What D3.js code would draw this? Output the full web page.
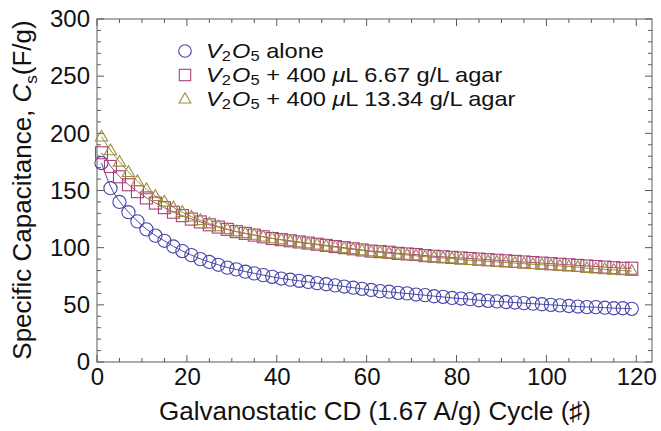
<!DOCTYPE html>
<html>
<head>
<meta charset="utf-8">
<script src="https://cdn.jsdelivr.net/npm/d3@7"></script>
<style>
  html, body { margin: 0; padding: 0; background: #fff; }
  svg { display: block; font-family: "Liberation Sans", Arial, Helvetica, sans-serif; }
</style>
</head>
<body>
<svg id="chart" width="661" height="431"></svg>
<script>
// Cycle numbers (every other cycle is plotted)
const cycles = d3.range(1, 120, 2);

// Specific capacitance (F/g) per plotted cycle
const aloneVals = [
  174, 152, 140, 131, 123, 116, 110.5, 106, 101, 97,
  93.5, 90, 87.5, 85, 82.5, 81, 79, 77.5, 76, 74.5,
  73, 72, 71, 70, 69, 68, 67, 66, 65, 64,
  63, 62, 61.5, 60.5, 60, 59, 58.5, 57.5, 57, 56,
  55.5, 55, 54, 53.5, 53, 52.5, 52, 51.5, 51, 50.5,
  50, 49.5, 49, 48.5, 48, 48, 47.5, 47, 47, 46.5
];
const agar667Vals = [
  183, 171, 162, 155, 149, 143.5, 139, 135, 131, 128,
  125, 122.5, 120, 118, 116, 114, 112.5, 111, 109.5, 108,
  107, 106, 105, 104, 103, 102, 101, 100, 99, 98,
  97, 96.5, 96, 95, 94.5, 94, 93, 92.5, 92, 91.5,
  91, 90.5, 90, 89.5, 89, 88.5, 88, 87.5, 87, 86.5,
  86, 85.5, 85, 84.5, 84, 83.5, 83, 82.5, 82, 82
];
const agar1334Vals = [
  197, 185, 175, 166, 158, 151, 145, 140, 135, 131,
  127, 124, 121, 118.5, 116, 114, 112.5, 111, 109.5, 108,
  107, 105.5, 104.5, 103.5, 102.5, 101.5, 100.5, 99.5, 98.5, 97.5,
  96.5, 96, 95, 94.5, 93.5, 93, 92, 91.5, 91, 90.5,
  89.5, 89, 88.5, 88, 87.5, 87, 86.5, 86, 85.5, 85,
  84.5, 84, 83.5, 83, 82, 81.5, 81, 80.5, 80, 79.5
];

const xTicks = [0, 20, 40, 60, 80, 100, 120];
const yTicks = [0, 50, 100, 150, 200, 250, 300];

const seriesNames = ["alone", "+ 400 μL 6.67 g/L agar", "+ 400 μL 13.34 g/L agar"];
const seriesColors = ["#4646aa", "#a8407c", "#9c8e3a"];
const seriesShapes = ["circle", "square", "triangle"];

const series = [aloneVals, agar667Vals, agar1334Vals].map((vals, i) => ({
  name: seriesNames[i],
  color: seriesColors[i],
  shape: seriesShapes[i],
  points: cycles.map((c, j) => ({ x: c, y: vals[j] }))
}));

const svg = d3.select("#chart");
const pLeft = 97, pRight = 652, pTop = 19, pBottom = 362;

const x = d3.scaleLinear().domain([0, 123.5]).range([pLeft, pRight]);
const y = d3.scaleLinear().domain([0, 300]).range([pBottom, pTop]);

const frameColor = "#5a5a5a";
const fontFam = "'Liberation Sans', Arial, sans-serif";

// Frame
svg.append("rect")
  .attr("x", pLeft).attr("y", pTop)
  .attr("width", pRight - pLeft).attr("height", pBottom - pTop)
  .attr("fill", "none").attr("stroke", frameColor).attr("stroke-width", 1);

// Inward ticks on all four sides
const xMinor = d3.range(0, 124, 5).filter(v => v % 20 !== 0);
const yMinor = d3.range(0, 301, 10).filter(v => v % 50 !== 0);
const tickG = svg.append("g").attr("stroke", frameColor).attr("stroke-width", 1);
function xTick(v, len) {
  tickG.append("line").attr("x1", x(v)).attr("x2", x(v)).attr("y1", pBottom).attr("y2", pBottom - len);
  tickG.append("line").attr("x1", x(v)).attr("x2", x(v)).attr("y1", pTop).attr("y2", pTop + len);
}
function yTick(v, len) {
  tickG.append("line").attr("y1", y(v)).attr("y2", y(v)).attr("x1", pLeft).attr("x2", pLeft + len);
  tickG.append("line").attr("y1", y(v)).attr("y2", y(v)).attr("x1", pRight).attr("x2", pRight - len);
}
xTicks.forEach(v => xTick(v, 7));
xMinor.forEach(v => xTick(v, 4));
yTicks.forEach(v => yTick(v, 7));
yMinor.forEach(v => yTick(v, 4));

// Tick labels via d3 axes (tick lines hidden; frame ticks drawn above)
const xAxis = svg.append("g")
  .attr("transform", `translate(0,${pBottom})`)
  .call(d3.axisBottom(x).tickValues(xTicks).tickSize(0).tickPadding(6));
xAxis.select(".domain").remove();
xAxis.selectAll("text")
  .attr("font-size", 24).attr("fill", "#111").attr("font-family", fontFam);

const yAxis = svg.append("g")
  .attr("transform", `translate(${pLeft},0)`)
  .call(d3.axisLeft(y).tickValues(yTicks).tickSize(0).tickPadding(7));
yAxis.select(".domain").remove();
yAxis.selectAll("text")
  .attr("font-size", 24).attr("fill", "#111").attr("font-family", fontFam);

// Axis titles
svg.append("text")
  .attr("x", 375).attr("y", 420)
  .attr("text-anchor", "middle").attr("font-size", 26).attr("fill", "#111")
  .text("Galvanostatic CD (1.67 A/g) Cycle (\u266F)");

const yTitle = svg.append("text")
  .attr("transform", "translate(31,190) rotate(-90)")
  .attr("text-anchor", "middle").attr("font-size", 26).attr("fill", "#111");
yTitle.append("tspan").text("Specific Capacitance, ");
yTitle.append("tspan").attr("font-style", "italic").text("C");
yTitle.append("tspan").attr("font-size", 17).attr("dy", 6).text("s");
yTitle.append("tspan").attr("dy", -6).text("(F/g)");

// Marker drawing
function drawMarker(g, shape, cx, cy, color, size) {
  const s = size || 1;
  if (shape === "circle") {
    g.append("circle").attr("cx", cx).attr("cy", cy).attr("r", 6.6 * s)
      .attr("fill", "none").attr("stroke", color).attr("stroke-width", 1.1);
  } else if (shape === "square") {
    const h = 6 * s;
    g.append("rect").attr("x", cx - h).attr("y", cy - h).attr("width", 2 * h).attr("height", 2 * h)
      .attr("fill", "none").attr("stroke", color).attr("stroke-width", 1.1);
  } else {
    const h = 6.5 * s;
    g.append("path")
      .attr("d", `M${cx},${cy - h} L${cx + h * 0.95},${cy + h * 0.65} L${cx - h * 0.95},${cy + h * 0.65} Z`)
      .attr("fill", "none").attr("stroke", color).attr("stroke-width", 1.1);
  }
}

const line = d3.line().x(d => x(d.x)).y(d => y(d.y)).curve(d3.curveBasis);

const plot = svg.append("g");
series.forEach(s => {
  plot.append("path")
    .datum(s.points)
    .attr("d", line)
    .attr("fill", "none").attr("stroke", s.color).attr("stroke-width", 1);
});
series.forEach(s => {
  const g = plot.append("g");
  s.points.forEach(p => drawMarker(g, s.shape, x(p.x), y(p.y), s.color));
});

// Legend (text slightly widened horizontally)
const legend = svg.append("g");
const legendRows = [51, 75, 99];
series.forEach((s, i) => {
  const ly = legendRows[i];
  drawMarker(legend.append("g"), s.shape, 185, ly, s.color, 0.95);
  const t = legend.append("text")
    .attr("transform", `translate(206,${ly + 7}) scale(1.18,1)`)
    .attr("font-size", 20).attr("fill", "#111");
  t.append("tspan").attr("font-style", "italic").text("V");
  t.append("tspan").attr("font-size", 14).attr("dy", 3).text("2");
  t.append("tspan").attr("font-style", "italic").attr("dy", -3).attr("dx", 1).text("O");
  t.append("tspan").attr("font-size", 14).attr("dy", 3).text("5");
  if (i === 0) {
    t.append("tspan").attr("dy", -3).text(" alone");
  } else {
    t.append("tspan").attr("dy", -3).text(" + 400 ");
    t.append("tspan").attr("font-style", "italic").text("\u03BC");
    t.append("tspan").text(i === 1 ? "L 6.67 g/L agar" : "L 13.34 g/L agar");
  }
});
</script>
</body>
</html>
